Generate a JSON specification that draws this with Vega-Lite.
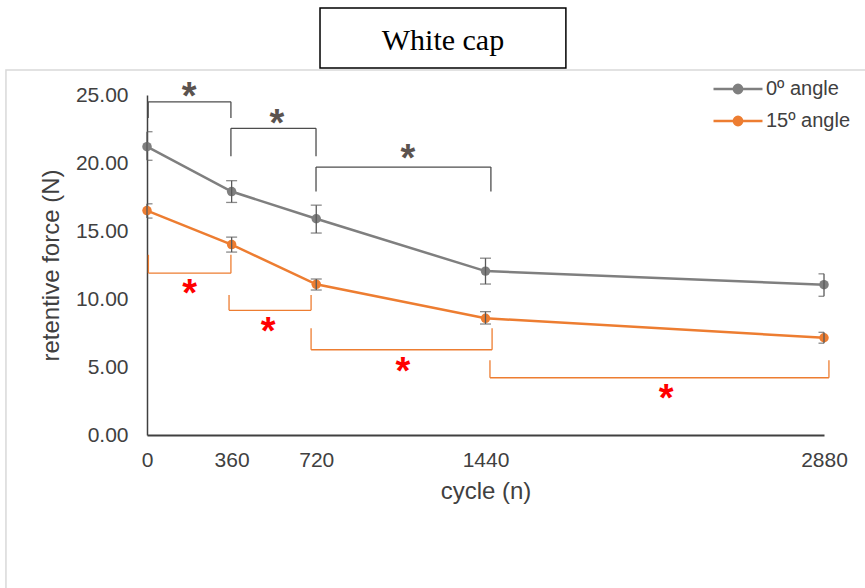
{
  "$schema": "https://vega.github.io/schema/vega-lite/v6.json",
  "autosize": "none",
  "width": 677,
  "height": 340,
  "padding": {"left": 147, "top": 95, "right": 41, "bottom": 153},
  "background": "white",
  "config": {"view": {"stroke": null}, "font": "Liberation Sans"},
  "datasets": {
    "series": [
      {"cycle": 0, "force": 21.2, "lo": 20.2, "hi": 22.3, "angle": "0º angle"},
      {"cycle": 360, "force": 17.9, "lo": 17.1, "hi": 18.7, "angle": "0º angle"},
      {"cycle": 720, "force": 15.9, "lo": 14.85, "hi": 16.9, "angle": "0º angle"},
      {"cycle": 1440, "force": 12.05, "lo": 11.1, "hi": 13.0, "angle": "0º angle"},
      {"cycle": 2880, "force": 11.05, "lo": 10.2, "hi": 11.85, "angle": "0º angle"},
      {"cycle": 0, "force": 16.5, "lo": 15.95, "hi": 17.0, "angle": "15º angle"},
      {"cycle": 360, "force": 14.0, "lo": 13.45, "hi": 14.55, "angle": "15º angle"},
      {"cycle": 720, "force": 11.08, "lo": 10.66, "hi": 11.47, "angle": "15º angle"},
      {"cycle": 1440, "force": 8.58, "lo": 8.16, "hi": 9.07, "angle": "15º angle"},
      {"cycle": 2880, "force": 7.15, "lo": 6.75, "hi": 7.55, "angle": "15º angle"}
    ],
    "brackets": [
      {"kind": "gray", "x1": 5, "x2": 357, "bar": 24.5, "end": 23.3},
      {"kind": "gray", "x1": 357, "x2": 719, "bar": 22.55, "end": 20.5},
      {"kind": "gray", "x1": 719, "x2": 1463, "bar": 19.7, "end": 17.9},
      {"kind": "orange", "x1": 6, "x2": 357, "bar": 11.9, "end": 13.25},
      {"kind": "orange", "x1": 349, "x2": 698, "bar": 9.17, "end": 10.3},
      {"kind": "orange", "x1": 698, "x2": 1468, "bar": 6.27, "end": 7.85},
      {"kind": "orange", "x1": 1459, "x2": 2901, "bar": 4.21, "end": 5.5}
    ],
    "stars": [
      {"kind": "gray", "x": 179, "y": 25.6},
      {"kind": "gray", "x": 553, "y": 23.6},
      {"kind": "gray", "x": 1110, "y": 21.0},
      {"kind": "red", "x": 181, "y": 11.1},
      {"kind": "red", "x": 515, "y": 8.3},
      {"kind": "red", "x": 1089, "y": 5.35},
      {"kind": "red", "x": 2208, "y": 3.4}
    ]
  },
  "layer": [
    {
      "data": {"values": [{}]},
      "mark": {"type": "rect", "fill": null, "stroke": "#d9d9d9", "strokeWidth": 1.5},
      "encoding": {
        "x": {"datum": -600, "type": "quantitative", "scale": {"domain": [0, 2880], "nice": false, "zero": false}},
        "x2": {"datum": 3100},
        "y": {"datum": 26.84, "type": "quantitative", "scale": {"domain": [0, 25], "nice": false}},
        "y2": {"datum": -12}
      }
    },
    {
      "data": {"values": [{}]},
      "mark": {"type": "rect", "fill": "white", "stroke": "black", "strokeWidth": 1.5},
      "encoding": {
        "x": {"datum": 736, "type": "quantitative"},
        "x2": {"datum": 1782},
        "y": {"datum": 31.4, "type": "quantitative"},
        "y2": {"datum": 26.99}
      }
    },
    {
      "data": {"values": [{"t": "White cap"}]},
      "mark": {"type": "text", "font": "Liberation Serif", "fontSize": 30, "baseline": "alphabetic", "align": "center", "color": "black"},
      "encoding": {
        "x": {"datum": 1259, "type": "quantitative"},
        "y": {"datum": 28.3, "type": "quantitative"},
        "text": {"field": "t"}
      }
    },
    {
      "data": {"name": "brackets"},
      "mark": {"type": "rule", "strokeWidth": 1.3},
      "encoding": {
        "x": {"field": "x1", "type": "quantitative"},
        "x2": {"field": "x2"},
        "y": {"field": "bar", "type": "quantitative"},
        "stroke": {"field": "kind", "type": "nominal", "scale": {"domain": ["gray", "orange"], "range": ["#4d4d4d", "#ed7d31"]}, "legend": null}
      }
    },
    {
      "data": {"name": "brackets"},
      "mark": {"type": "rule", "strokeWidth": 1.3},
      "encoding": {
        "x": {"field": "x1", "type": "quantitative"},
        "y": {"field": "bar", "type": "quantitative"},
        "y2": {"field": "end"},
        "stroke": {"field": "kind", "type": "nominal", "legend": null}
      }
    },
    {
      "data": {"name": "brackets"},
      "mark": {"type": "rule", "strokeWidth": 1.3},
      "encoding": {
        "x": {"field": "x2", "type": "quantitative"},
        "y": {"field": "bar", "type": "quantitative"},
        "y2": {"field": "end"},
        "stroke": {"field": "kind", "type": "nominal", "legend": null}
      }
    },
    {
      "data": {"name": "stars"},
      "mark": {"type": "text", "text": "*", "fontSize": 38, "fontWeight": "bold", "baseline": "alphabetic", "align": "center", "dy": 22},
      "encoding": {
        "x": {"field": "x", "type": "quantitative"},
        "y": {"field": "y", "type": "quantitative"},
        "fill": {"field": "kind", "type": "nominal", "scale": {"domain": ["gray", "red"], "range": ["#5b534f", "#ff0000"]}, "legend": null}
      }
    },
    {
      "data": {"name": "series"},
      "mark": {"type": "line", "strokeWidth": 2.5},
      "encoding": {
        "x": {"field": "cycle", "type": "quantitative", "axis": {"values": [0, 360, 720, 1440, 2880], "format": "d", "title": "cycle (n)", "grid": false, "ticks": false, "labelFlush": false, "labelPadding": 14, "labelFontSize": 21, "labelColor": "#404040", "titleFontSize": 24, "titleFontWeight": "normal", "titleColor": "#404040", "titlePadding": 9, "domainColor": "#404040", "domainWidth": 2}},
        "y": {"field": "force", "type": "quantitative", "axis": {"values": [0, 5, 10, 15, 20, 25], "format": ".2f", "title": "retentive force (N)", "grid": false, "ticks": false, "labelPadding": 19, "labelFontSize": 21, "labelColor": "#404040", "titleFontSize": 24, "titleFontWeight": "normal", "titleColor": "#404040", "titlePadding": 12, "domainColor": "#404040", "domainWidth": 1.5}},
        "color": {"field": "angle", "type": "nominal", "scale": {"domain": ["0º angle", "15º angle"], "range": ["#7f7f7f", "#ed7d31"]},
          "legend": {"orient": "none", "legendX": 565, "legendY": -19, "title": null, "labelFontSize": 20, "labelColor": "#404040", "symbolType": "M-1,0L1,0M-0.17,0A0.17,0.17,0,1,1,0.17,0A0.17,0.17,0,1,1,-0.17,0Z", "symbolSize": 2400, "symbolStrokeWidth": 2.5, "labelOffset": 2, "clipHeight": 26, "rowPadding": 6,
            "encode": {"symbols": {"update": {"fill": {"scale": "color", "field": "value"}, "stroke": {"scale": "color", "field": "value"}}}}}}
      }
    },
    {
      "data": {"name": "series"},
      "mark": {"type": "point", "filled": true, "size": 90, "opacity": 1},
      "encoding": {
        "x": {"field": "cycle", "type": "quantitative"},
        "y": {"field": "force", "type": "quantitative"},
        "color": {"field": "angle", "type": "nominal"}
      }
    },
    {
      "data": {"name": "series"},
      "mark": {"type": "rule", "color": "#595959", "strokeWidth": 1.3},
      "encoding": {
        "x": {"field": "cycle", "type": "quantitative"},
        "y": {"field": "lo", "type": "quantitative"},
        "y2": {"field": "hi"}
      }
    },
    {
      "data": {"name": "series"},
      "mark": {"type": "tick", "orient": "horizontal", "color": "#595959", "size": 11, "thickness": 1.3, "clip": true},
      "encoding": {
        "x": {"field": "cycle", "type": "quantitative"},
        "y": {"field": "lo", "type": "quantitative"}
      }
    },
    {
      "data": {"name": "series"},
      "mark": {"type": "tick", "orient": "horizontal", "color": "#595959", "size": 11, "thickness": 1.3, "clip": true},
      "encoding": {
        "x": {"field": "cycle", "type": "quantitative"},
        "y": {"field": "hi", "type": "quantitative"}
      }
    }
  ]
}
